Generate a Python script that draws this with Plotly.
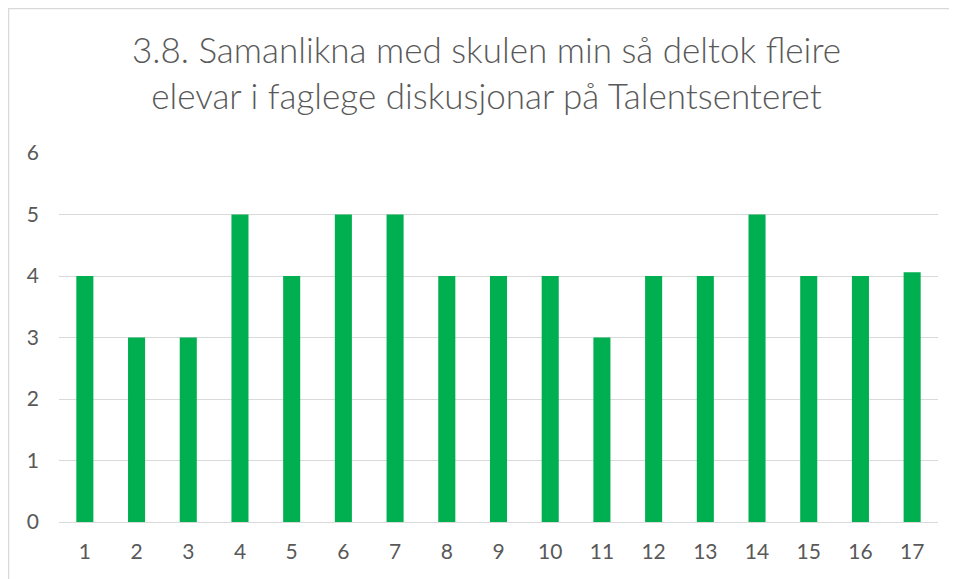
import plotly.graph_objects as go

# Survey item 3.8, answers per student (1..17)
students = [str(i) for i in range(1, 18)]
scores = [4, 3, 3, 5, 4, 5, 5, 4, 4, 4, 3, 4, 4, 5, 4, 4, 4.06]
y_ticks = [0, 1, 2, 3, 4, 5, 6]

TITLE = "3.8. Samanlikna med skulen min så deltok fleire<br>elevar i faglege diskusjonar på Talentsenteret"
FONT = "Lato, 'Open Sans', sans-serif"

W, H = 957, 579
ML, MR, MT, MB = 51, 27, 145, 65
plot_w = W - ML - MR
plot_h = H - MT - MB

fig = go.Figure(
    go.Bar(
        x=students,
        y=scores,
        marker=dict(color="#00b050", line=dict(width=0)),
        hoverinfo="x+y",
    )
)

fig.update_layout(
    width=W,
    height=H,
    paper_bgcolor="white",
    plot_bgcolor="white",
    showlegend=False,
    bargap=0.67,
    margin=dict(l=ML, r=MR, t=MT, b=MB),
    title=dict(
        text=TITLE,
        x=0.5,
        xanchor="center",
        y=0.905,
        yanchor="middle",
        font=dict(family=FONT, size=35, color="#595959", weight=300),
    ),
    font=dict(family=FONT, size=21, color="#595959"),
    xaxis=dict(
        type="category",
        showgrid=False,
        showline=True,
        linecolor="#d9d9d9",
        linewidth=1,
        ticks="",
        ticklabelstandoff=11,
    ),
    yaxis=dict(
        range=[0, 6],
        tickvals=y_ticks,
        showgrid=True,
        gridcolor="#d9d9d9",
        gridwidth=1,
        zeroline=False,
        showline=False,
        ticks="",
        ticklabelstandoff=19,
    ),
)

# chart-area frame (only top and left edges fall inside the view)
fig.add_shape(
    type="rect",
    xref="paper",
    yref="paper",
    x0=-(ML - 0.5) / plot_w,
    x1=1.1,
    y0=-0.4,
    y1=1 + (MT - 0.5) / plot_h,
    line=dict(color="#d9d9d9", width=1.5),
    fillcolor="rgba(0,0,0,0)",
    layer="below",
)

fig.write_html("out.html")
